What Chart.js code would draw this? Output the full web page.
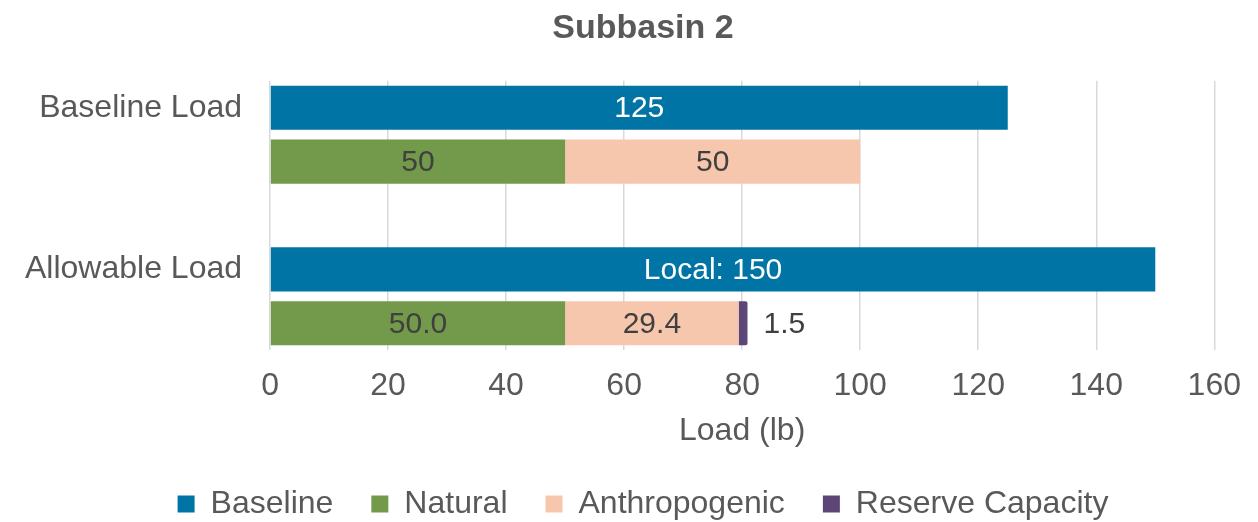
<!DOCTYPE html>
<html>
<head>
<meta charset="utf-8">
<script src="https://cdn.jsdelivr.net/npm/chart.js@4"></script>
<style>
    html, body { margin: 0; padding: 0; background: #fff; }
    #wrap { width: 1258px; height: 522px; }
</style>
</head>
<body>
<div id="wrap"><canvas id="subbasinChart"></canvas></div>
<script>
// Datos
const categories = ['Baseline Load', 'Allowable Load'];
const baseline = [125, 150];
const natural = [50, 50.0];
const anthropogenic = [50, 29.4];
const reserve = [null, 1.5];
const decimals = [0, 1];
const baselinePrefix = ['', 'Local: '];
const xTicks = [0, 20, 40, 60, 80, 100, 120, 140, 160];

// Filas: barra de línea base, barra apilada, hueco entre grupos
const rowLabels = [categories[0], '', '', categories[1], ''];
function topRow(arr) { return [arr[0], null, null, arr[1], null]; }
function lowRow(arr) { return [null, arr[0], null, null, arr[1]]; }
const rowCat = [0, 0, null, 1, 1];

const GREY = '#595959';
const FONT = "'Liberation Sans', Arial, sans-serif";

const barLabels = {
    id: 'barLabels',
    afterDatasetsDraw(chart) {
        const ctx = chart.ctx;
        ctx.save();
        ctx.font = `30px ${FONT}`;
        ctx.textBaseline = 'middle';
        chart.data.datasets.forEach((ds, di) => {
            const meta = chart.getDatasetMeta(di);
            meta.data.forEach((el, i) => {
                const v = ds.data[i];
                if (v === null || v === undefined) return;
                const c = rowCat[i];
                let text;
                if (ds.label === 'Baseline') text = baselinePrefix[c] + v.toFixed(0);
                else text = v.toFixed(decimals[c]);
                if (ds.label === 'Reserve Capacity') {
                    ctx.fillStyle = '#404040';
                    ctx.textAlign = 'left';
                    ctx.fillText(text, el.x + 16, el.y + 1);
                } else {
                    ctx.fillStyle = ds.label === 'Baseline' ? '#ffffff' : '#404040';
                    ctx.textAlign = 'center';
                    ctx.fillText(text, (el.x + el.base) / 2, el.y + 1);
                }
            });
        });
        ctx.restore();
    }
};

// Centrar título y leyenda sobre toda la figura
const recenter = {
    id: 'recenter',
    afterLayout(chart) {
        [chart.titleBlock, chart.legend].forEach(box => {
            if (!box) return;
            box.left = 28;
            box.right = chart.width;
            box.width = box.right - box.left;
        });
    }
};

new Chart(document.getElementById('subbasinChart'), {
    type: 'bar',
    data: {
        labels: rowLabels,
        datasets: [
            { label: 'Baseline', data: topRow(baseline), backgroundColor: '#0074A5' },
            { label: 'Natural', data: lowRow(natural), backgroundColor: '#73994A' },
            { label: 'Anthropogenic', data: lowRow(anthropogenic), backgroundColor: '#F6C6AD' },
            { label: 'Reserve Capacity', data: lowRow(reserve), backgroundColor: '#5C4677', borderRadius: 2 }
        ]
    },
    options: {
        indexAxis: 'y',
        responsive: true,
        maintainAspectRatio: false,
        animation: false,
        barPercentage: 0.82,
        categoryPercentage: 1,
        layout: { padding: { left: -3, right: 40, top: 0, bottom: -8 } },
        scales: {
            x: {
                stacked: true,
                min: 0,
                max: 160,
                afterBuildTicks: (axis) => { axis.ticks = xTicks.map(v => ({ value: v })); },
                grid: { color: '#d9d9d9', lineWidth: 1.5, drawTicks: false },
                border: { display: false },
                ticks: { color: GREY, font: { family: FONT, size: 32 }, padding: 17 },
                title: { display: true, text: 'Load (lb)', color: GREY, font: { family: FONT, size: 32 }, padding: { top: -11, bottom: 0 } }
            },
            y: {
                stacked: true,
                grid: { display: false, drawTicks: false },
                border: { display: false },
                ticks: { color: GREY, font: { family: FONT, size: 32 }, padding: 28, autoSkip: false }
            }
        },
        plugins: {
            title: {
                display: true,
                text: 'Subbasin 2',
                color: GREY,
                font: { family: FONT, size: 34, weight: 'bold' },
                padding: { top: 8, bottom: 32 }
            },
            legend: {
                position: 'bottom',
                labels: { color: GREY, font: { family: FONT, size: 32 }, boxWidth: 17, boxHeight: 17, padding: 38 }
            },
            tooltip: { enabled: false }
        }
    },
    plugins: [barLabels, recenter]
});
</script>
</body>
</html>
